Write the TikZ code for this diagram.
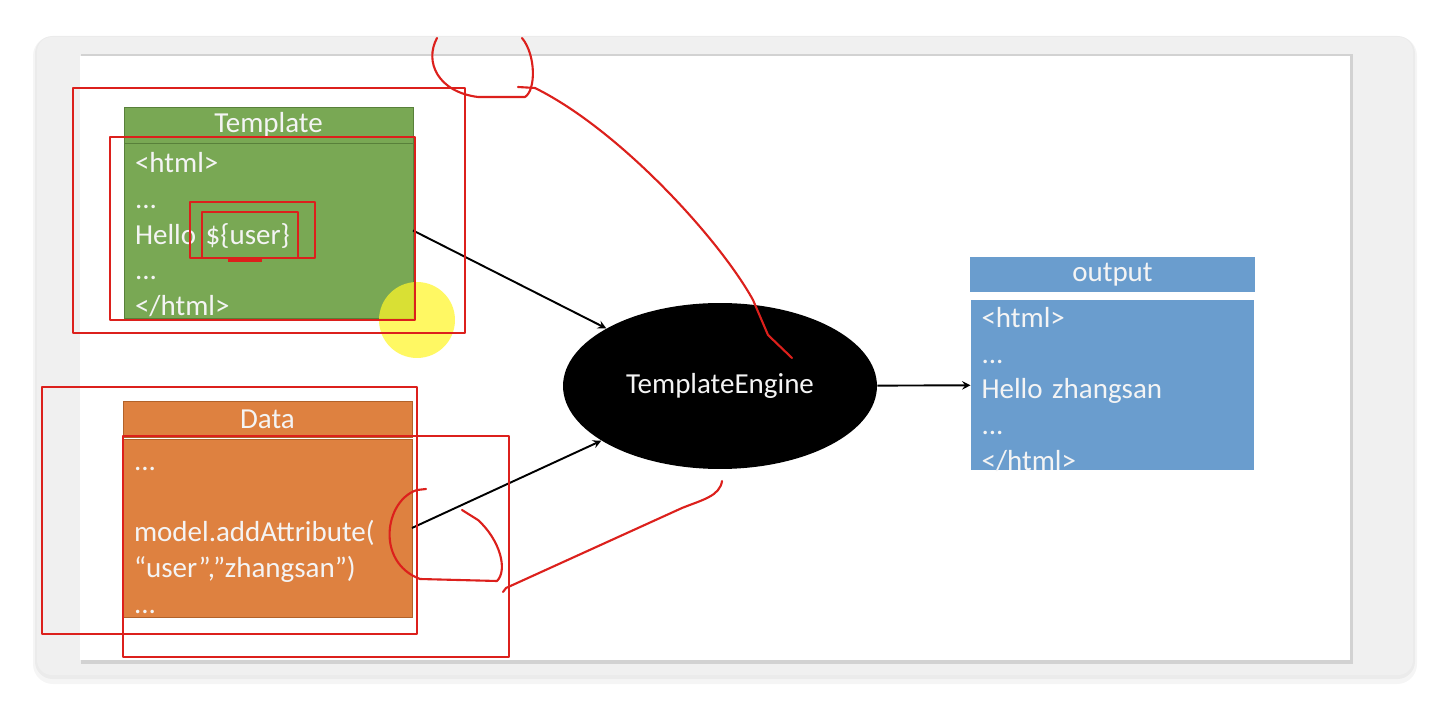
\documentclass[tikz,border=0pt]{standalone}
\usepackage{fontspec}
\setmainfont{Carlito}
\usetikzlibrary{shapes,arrows,positioning,calc}

\definecolor{tplgreen}{RGB}{121,168,84}
\definecolor{tpledge}{RGB}{88,128,58}
\definecolor{dataorange}{RGB}{222,129,64}
\definecolor{dataedge}{RGB}{178,98,42}
\definecolor{outblue}{RGB}{106,157,206}
\definecolor{textwhite}{RGB}{244,244,244}
\definecolor{annot}{RGB}{220,32,28}
\definecolor{cursor}{RGB}{255,246,40}
\definecolor{window}{RGB}{240,240,240}

\begin{document}
\begin{tikzpicture}[x=0.02cm, y=-0.02cm,
    boxhead/.style={rectangle, inner sep=0pt, outer sep=0pt, minimum width=5.78cm, minimum height=0.72cm, text=textwhite, font=\fontsize{16.5}{20}\selectfont},
    boxbody/.style={rectangle, inner xsep=0.22cm, inner ysep=0pt, outer sep=0pt, text width=5.34cm, text height=0.54cm, text depth=2.84cm, align=left, text=textwhite, font=\fontsize{16.5}{20.3}\selectfont},
    flow/.style={->, >=stealth, line width=1.1pt},
    redmark/.style={draw=annot, line width=1.5pt, line join=round},
    redline/.style={draw=annot, line width=1.2pt, line cap=round, line join=round}
]

    % Screen and slide
    \useasboundingbox (0,0) rectangle (1450,712);
    \fill[white] (0,0) rectangle (1450,712);
    \fill[black, opacity=0.04, rounded corners=0.4cm] (33,36) rectangle (1417,684);
    \fill[black, opacity=0.04, rounded corners=0.35cm] (35,36) rectangle (1415,679);
    \fill[window, rounded corners=0.3cm] (37,37) rectangle (1413,675);
    \fill[black, opacity=0.12] (81,54) rectangle (1353,664);
    \fill[white] (80,56) rectangle (1350,660);

    % Template
    \node (tplhead) [boxhead, fill=tplgreen, draw=tpledge] at (268.5,125) {Template};
    \node (tplbody) [boxbody, fill=tplgreen, draw=tpledge, below=0pt of tplhead, minimum height=3.5cm]
        {<html>\\...\\Hello \$\{user\}\\...\\</html>};

    % Data
    \node (datahead) [boxhead, fill=dataorange, draw=dataedge] at (267.5,419) {Data};
    \node (databody) [boxbody, fill=dataorange, draw=dataedge, below=0.04cm of datahead, minimum height=3.56cm]
        {...\\\mbox{}\\model.addAttribute(\\“user”,”zhangsan”)\\...};

    % Engine
    \node (engine) [ellipse, fill=black, inner sep=0pt, minimum width=6.28cm, minimum height=3.32cm, text=textwhite, font=\fontsize{16.5}{20}\selectfont] at (720,386) {TemplateEngine};

    % Output
    \node (outhead) [boxhead, fill=outblue, minimum width=5.7cm, minimum height=0.7cm] at (1112.5,274.5) {output};
    \node (outbody) [boxbody, fill=outblue, text width=5.24cm, below=0.16cm of outhead, minimum height=3.4cm]
        {<html>\\...\\Hello zhangsan\\...\\</html>};

    % Flow
    \path[flow] (tplbody.east) edge (engine);
    \path[flow] (databody.east) edge (engine);
    \path[flow] (engine) edge (outbody);

    % Cursor
    \fill[cursor, opacity=0.72] (417,320) circle [radius=0.76cm];

    % Pen marks
    \draw[redmark] (73,88) rectangle (465,333);
    \draw[redmark] (110,137) rectangle (415,320);
    \draw[redmark] (190,202) rectangle (315,258);
    \draw[redmark] (202,212) rectangle (298,258);
    \draw[annot, line width=2.5pt] (228,260) -- (262,260);
    \draw[redmark] (42,387) rectangle (417,634);
    \draw[redmark] (123,436) rectangle (509,657);

    \draw[redline] (437,38) .. controls (424,62) and (438,92) .. (478,97) -- (525,97)
        .. controls (536,90) and (536,55) .. (522,38);
    \draw[redline] (518,87) -- (535,88) .. controls (620,130) and (720,240) .. (753,300)
        -- (768,335) -- (792,358);
    \draw[redline] (426,489) -- (417,490) .. controls (385,500) and (375,562) .. (420,579)
        -- (497,581) .. controls (508,570) and (500,540) .. (478,520) -- (462,510);
    \draw[redline] (722,481) .. controls (720,496) and (702,500) .. (682,508) -- (506,588) -- (503,592);

\end{tikzpicture}
\end{document}
